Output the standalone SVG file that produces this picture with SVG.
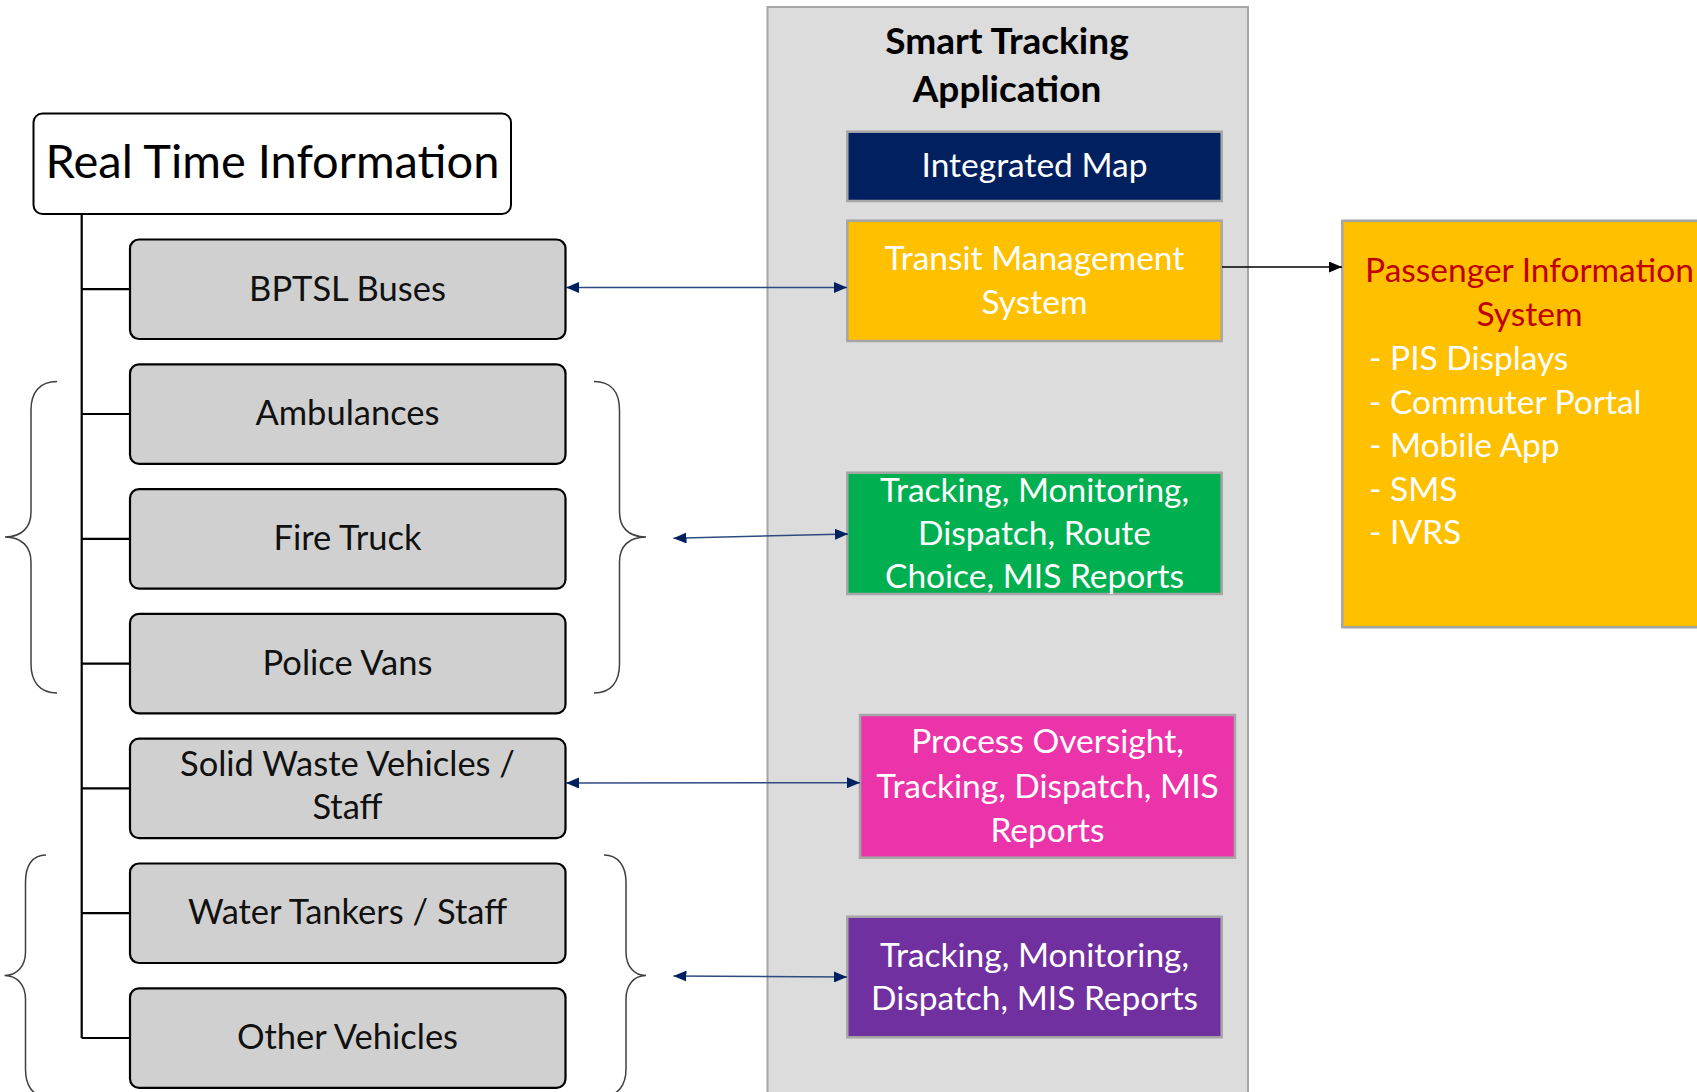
<svg xmlns="http://www.w3.org/2000/svg" width="1697" height="1092" viewBox="0 0 1697 1092">
<defs>
<style>
text{font-family:Lato,"Open Sans","Liberation Sans",sans-serif;}
.grey{fill:#d0d0d0;stroke:#000;stroke-width:2.2;}
.gt{font-size:34.5px;fill:#111;text-anchor:middle;}
.cb{stroke:#a6a6a6;stroke-width:2.5;}
.wt{font-size:33.5px;fill:#fff;text-anchor:middle;}
.branch{stroke:#000;stroke-width:2.2;fill:none;}
.brace{stroke:#404040;stroke-width:1.5;fill:none;}
.nav{stroke:#2f4a80;stroke-width:1.5;fill:none;marker-start:url(#ah);marker-end:url(#ah);}
</style>
<marker id="ah" viewBox="0 0 13 11" refX="13" refY="5.5" markerWidth="13" markerHeight="11" markerUnits="userSpaceOnUse" orient="auto-start-reverse"><path d="M0,0 L13,5.5 L0,11 z" fill="#002060"/></marker>
<marker id="ahb" viewBox="0 0 13 11" refX="13" refY="5.5" markerWidth="13" markerHeight="11" markerUnits="userSpaceOnUse" orient="auto"><path d="M0,0 L13,5.5 L0,11 z" fill="#000"/></marker>
</defs>
<rect width="1697" height="1092" fill="#fff"/>

<g id="smart-tracking-app">
<rect x="767.5" y="7" width="480.5" height="1100" fill="#dcdcdc" stroke="#a6a6a6" stroke-width="2"/>
<text x="1007" y="53.5" font-size="37" font-weight="bold" fill="#000" text-anchor="middle">Smart Tracking</text>
<text x="1007" y="101.5" font-size="37" font-weight="bold" fill="#000" text-anchor="middle">Application</text>
</g>

<g id="tree-lines">
<path class="branch" d="M81.7,214 V1038 M81.7,289.2 H130 M81.7,414 H130 M81.7,538.8 H130 M81.7,663.6 H130 M81.7,788.4 H130 M81.7,913.2 H130 M81.7,1038 H130"/>
</g>

<g id="real-time-information">
<rect x="33.5" y="113.5" width="477.5" height="100.5" rx="9" fill="#fff" stroke="#000" stroke-width="2"/>
<text x="272.5" y="178" font-size="47" fill="#000" text-anchor="middle">Real Time Information</text>
</g>

<g id="bptsl-buses"><rect class="grey" x="130" y="239.5" width="435.5" height="99.5" rx="9"/><text class="gt" x="347.5" y="300.5">BPTSL Buses</text></g>
<g id="ambulances"><rect class="grey" x="130" y="364.3" width="435.5" height="99.5" rx="9"/><text class="gt" x="347.5" y="425">Ambulances</text></g>
<g id="fire-truck"><rect class="grey" x="130" y="489.1" width="435.5" height="99.5" rx="9"/><text class="gt" x="347.5" y="550">Fire Truck</text></g>
<g id="police-vans"><rect class="grey" x="130" y="613.9" width="435.5" height="99.5" rx="9"/><text class="gt" x="347.5" y="674.5">Police Vans</text></g>
<g id="solid-waste"><rect class="grey" x="130" y="738.7" width="435.5" height="99.5" rx="9"/><text class="gt" x="347.5" y="775.5">Solid Waste Vehicles /</text><text class="gt" x="347.5" y="818.5">Staff</text></g>
<g id="water-tankers"><rect class="grey" x="130" y="863.5" width="435.5" height="99.5" rx="9"/><text class="gt" x="347.5" y="924">Water Tankers / Staff</text></g>
<g id="other-vehicles"><rect class="grey" x="130" y="988.3" width="435.5" height="99.5" rx="9"/><text class="gt" x="347.5" y="1049">Other Vehicles</text></g>

<g id="braces">
<path class="brace" d="M57,381.5 C40,381.5 31,392 31,410 L31,512 C31,527 22,537 5,537 C22,537 31,547 31,562 L31,664 C31,682 40,693 57,693"/>
<path class="brace" d="M594,381.5 C611,381.5 619.5,392 619.5,410 L619.5,512 C619.5,527 628,537 646,537 C628,537 619.5,547 619.5,562 L619.5,664 C619.5,682 611,693 594,693"/>
<path class="brace" d="M46,855 C32,855 25.5,866 25.5,882 L25.5,952 C25.5,966 17,975.5 4.5,975.5 C17,975.5 25.5,985 25.5,999 L25.5,1069 C25.5,1085 32,1096 46,1096"/>
<path class="brace" d="M604,855 C618,855 626,866 626,882 L626,952 C626,966 634,975.5 646,975.5 C634,975.5 626,985 626,999 L626,1069 C626,1085 618,1096 604,1096"/>
</g>

<g id="integrated-map"><rect class="cb" x="847.3" y="131.7" width="374.4" height="69.3" fill="#002060"/><text class="wt" x="1034.5" y="176.7">Integrated Map</text></g>
<g id="transit-management"><rect class="cb" x="847.3" y="220.7" width="374.4" height="120.3" fill="#ffc000"/><text class="wt" x="1034.5" y="270">Transit Management</text><text class="wt" x="1034.5" y="313.5">System</text></g>
<g id="tracking-route"><rect class="cb" x="847.3" y="472.7" width="374.4" height="121.3" fill="#00b050"/><text class="wt" x="1034.5" y="501.7">Tracking, Monitoring,</text><text class="wt" x="1034.5" y="545">Dispatch, Route</text><text class="wt" x="1034.5" y="588.3">Choice, MIS Reports</text></g>
<g id="process-oversight"><rect class="cb" x="860" y="715" width="375" height="142.7" fill="#ec34aa"/><text class="wt" x="1047.5" y="753.3">Process Oversight,</text><text class="wt" x="1047.5" y="797.5">Tracking, Dispatch, MIS</text><text class="wt" x="1047.5" y="841.7">Reports</text></g>
<g id="tracking-mis"><rect class="cb" x="847.3" y="916.7" width="374.4" height="120.6" fill="#7030a0"/><text class="wt" x="1034.5" y="966.7">Tracking, Monitoring,</text><text class="wt" x="1034.5" y="1010">Dispatch, MIS Reports</text></g>

<g id="passenger-information">
<rect class="cb" x="1342.3" y="220.7" width="370" height="406.6" fill="#ffc000"/>
<text x="1529.5" y="281.7" font-size="33.5" fill="#c00000" text-anchor="middle">Passenger Information</text>
<text x="1529.5" y="326" font-size="33.5" fill="#c00000" text-anchor="middle">System</text>
<g font-size="33.5" fill="#fff">
<text x="1369" y="370">- PIS Displays</text>
<text x="1369" y="413.5">- Commuter Portal</text>
<text x="1369" y="457">- Mobile App</text>
<text x="1369" y="500.5">- SMS</text>
<text x="1369" y="544">- IVRS</text>
</g>
</g>

<g id="connectors">
<path class="nav" d="M566,287.5 L847,287.5"/>
<path class="nav" d="M673.5,538.3 L848,534"/>
<path class="nav" d="M566,783 L860,782.7"/>
<path class="nav" d="M673.5,976 L847,977"/>
<path d="M1222,267 L1342,267" stroke="#000" stroke-width="1.5" fill="none" marker-end="url(#ahb)"/>
</g>
</svg>
